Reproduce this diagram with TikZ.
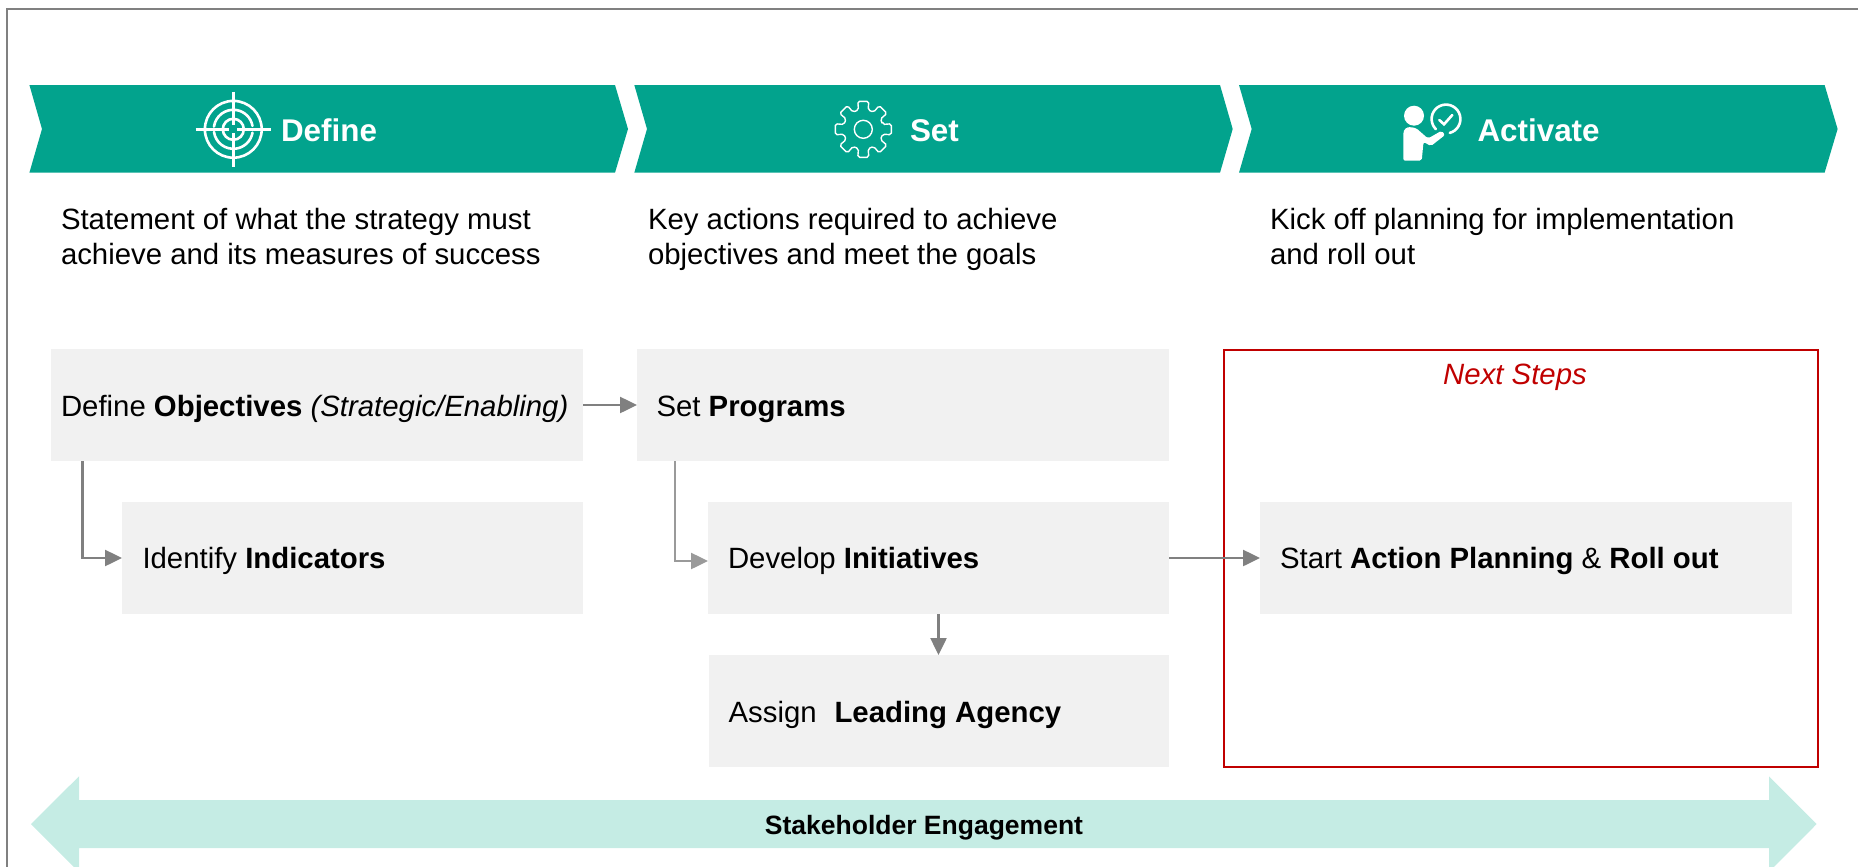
\documentclass[tikz,border=0pt]{standalone}
\usepackage{fontspec}
\setmainfont{Liberation Sans}
\usetikzlibrary{arrows.meta,calc}
\definecolor{teal1}{HTML}{02A38D}
\definecolor{mint1}{HTML}{C5ECE4}
\definecolor{boxgray}{HTML}{F1F1F1}
\definecolor{linegray}{HTML}{808080}
\definecolor{linelight}{HTML}{9A9A9A}
\definecolor{red1}{HTML}{C00000}
\tikzset{
  x=1pt,y=-1pt,
  body/.style={inner sep=0pt,outer sep=0pt,anchor=base west,font=\fontsize{29.35}{35}\selectfont,text=black},
  headtxt/.style={inner sep=0pt,outer sep=0pt,anchor=base west,text=white,font=\fontsize{31.4}{36}\selectfont\bfseries},
  graybox/.style={fill=boxgray,draw=none,inner sep=0pt,outer sep=0pt,anchor=north west},
  chev/.style={fill=teal1,draw=none},
  conn/.style={draw=linegray,line width=2.5pt,-{Triangle[length=17pt,width=16pt,fill=linegray]}},
  connlight/.style={draw=linelight,line width=2.5pt,-{Triangle[length=17pt,width=16pt,fill=linelight]}},
  icon/.style={draw=white,line width=2.6pt,line cap=round},
}
\begin{document}
\begin{tikzpicture}
\useasboundingbox (0,0) rectangle (1858,867);
\clip (0,0) rectangle (1858,867);
% frame
\draw[linegray,line width=2.6pt] (1858,9) -- (7,9) -- (7,867);
% chevrons
\fill[chev] (29.4,85) -- (615,85) -- (628,129) -- (615,172.7) -- (29.4,172.7) -- (42,129) -- cycle;
\fill[chev] (634.3,85) -- (1220,85) -- (1232.7,129) -- (1220,172.7) -- (634.3,172.7) -- (647,129) -- cycle;
\fill[chev] (1239,85) -- (1824.6,85) -- (1837.6,129) -- (1824.6,172.7) -- (1239,172.7) -- (1251.7,129) -- cycle;
\node[headtxt] (hdefine) at (281,141.5) {Define};
\node[headtxt] (hset) at (910,141.5) {Set};
\node[headtxt] (hactivate) at (1477.5,141.5) {Activate};
% target icon
\begin{scope}[shift={(233.3,129.3)}]
  \draw[icon] (0,0) circle[radius=28.4];
  \draw[icon] (0,0) circle[radius=10.5];
  \draw[icon] (188:19.5) arc[start angle=188,end angle=350,radius=19.5];
  \draw[icon] (172:19.5) arc[start angle=172,end angle=10,radius=19.5];
  \draw[icon,line cap=butt] (-37.8,0) -- (-4,0) (4,0) -- (37.8,0) (0,-37.8) -- (0,-4) (0,4) -- (0,37.8);
\end{scope}
% gear icon
\begin{scope}[shift={(863.3,129.3)}]
  \draw[draw=white,line width=1.4pt,rounded corners=1.8pt]
    (-14:20) \foreach \a in {0,45,...,315} {
      -- ($(\a:28)+(\a+90:-5.5)$) -- ($(\a:28)+(\a+90:5.5)$) -- (\a+14:20) -- (\a+31:20)
    } -- cycle;
  \draw[draw=white,line width=1.4pt] (0,0) circle[radius=9];
\end{scope}
% activate icon
\fill[white] (1414,115.7) circle[radius=10];
\fill[white,rounded corners=2pt] (1403.3,160.7) -- (1403.3,136) .. controls (1403.3,129) and (1407,127) .. (1411.7,127.3)
  -- (1416,128) -- (1428,138.5) -- (1441.7,130.7) -- (1445,135) -- (1431,146) -- (1423.5,142) -- (1421.7,160.7) -- cycle;
\draw[icon] (1446,119) ++(75:14.4) arc[start angle=75,end angle=-225,radius=14.4];
\draw[icon] (1439.3,120) -- (1444,124.3) -- (1452.3,115);
% descriptions
\node[body,align=left] (d1) at (61,264) {Statement of what the strategy must\\achieve and its measures of success};
\node[body,align=left] (d2) at (648,264) {Key actions required to achieve\\objectives and meet the goals};
\node[body,align=left] (d3) at (1270,264) {Kick off planning for implementation\\and roll out};
% red box
\node[draw=red1,line width=2.4pt,inner sep=0pt,outer sep=0pt,anchor=north west,minimum width=594pt,minimum height=417pt] (nextbox) at (1224,350) {};
\node[inner sep=0pt,anchor=base,text=red1,font=\fontsize{29.35}{35}\selectfont\itshape] (nextlab) at (1515,384) {Next Steps};
% gray boxes
\node[graybox,minimum width=532pt,minimum height=112pt] (obj) at (51,349) {};
\node[graybox,minimum width=532pt,minimum height=112pt] (prog) at (637,349) {};
\node[graybox,minimum width=461pt,minimum height=112pt] (ind) at (122,502) {};
\node[graybox,minimum width=461pt,minimum height=112pt] (init) at (708,502) {};
\node[graybox,minimum width=460pt,minimum height=112pt] (assign) at (709,655) {};
\node[graybox,minimum width=532pt,minimum height=112pt] (start) at (1260,502) {};
% box text
\node[body] (tobj) at (61,416.7) {Define \textbf{Objectives} \textit{(Strategic/Enabling)}};
\node[body] (tprog) at (656.5,416.7) {Set \textbf{Programs}};
\node[body] (tind) at (142.5,568.8) {Identify \textbf{Indicators}};
\node[body] (tinit) at (728,568.8) {Develop \textbf{Initiatives}};
\node[body] (tassign) at (728.6,722) {Assign\ \hspace{1.5pt}\ \textbf{Leading Agency}};
\node[body] (tstart) at (1280,568.8) {Start \textbf{Action Planning} \& \textbf{Roll out}};
% connectors
\draw[conn] (obj.east) -- (prog.west);
\draw[conn] ([xshift=31.4pt]obj.south west) |- (ind.west);
\draw[connlight] ([xshift=38pt]prog.south west) |- ([yshift=-3pt]init.west);
\draw[conn] (init.east) -- (start.west);
\draw[conn] (init.south) -- (init.south |- assign.north);
% engagement arrow
\fill[mint1] (31,824) -- (79,776.3) -- (79,800) -- (1769,800) -- (1769,776.3) -- (1816.7,824) -- (1769,872) -- (1769,848) -- (79,848) -- (79,872) -- cycle;
\node[inner sep=0pt,anchor=base,text=black,font=\fontsize{26.5}{32}\selectfont\bfseries] (stake) at (924,834) {Stakeholder Engagement};
\end{tikzpicture}
\end{document}
